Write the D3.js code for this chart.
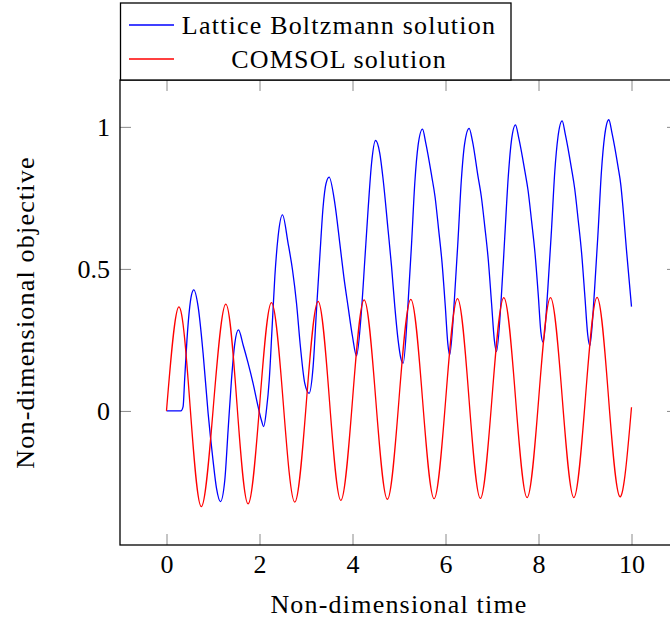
<!DOCTYPE html>
<html>
<head>
<meta charset="utf-8">
<script src="https://cdn.jsdelivr.net/npm/d3@7"></script>
<style>
  html, body { margin: 0; padding: 0; background: #fff; }
  svg { display: block; }
  text { font-family: "Liberation Serif", "Times New Roman", serif; fill: #000; }
</style>
</head>
<body>
<div id="chart"></div>
<script>
// ---------- data ----------
const seriesNames = ["Lattice Boltzmann solution", "COMSOL solution"];
const seriesColors = ["#0000ff", "#ff0000"];

// Lattice Boltzmann solution (time, value)
const lbmTime = [
  0, 0.31, 0.357, 0.39, 0.44, 0.50, 0.537, 0.587, 0.68, 0.787, 0.895, 1.0, 1.075, 1.16,
  1.254, 1.325, 1.397, 1.469, 1.548, 1.648, 1.755, 1.862, 1.97, 2.04, 2.09,
  2.15, 2.21, 2.27, 2.33, 2.40, 2.494, 2.615, 2.71, 2.796, 2.88, 2.974, 3.067,
  3.153, 3.226, 3.297, 3.368, 3.43, 3.497, 3.62, 3.727, 3.813, 3.905, 4.0, 4.086,
  4.194, 4.265, 4.335, 4.41, 4.495, 4.587, 4.66, 4.765, 4.84, 4.91, 4.98, 5.04, 5.09,
  5.19, 5.27, 5.34, 5.41, 5.505, 5.575, 5.705, 5.775, 5.85, 5.925, 5.995, 6.05, 6.09,
  6.19, 6.27, 6.34, 6.41, 6.508, 6.58, 6.70, 6.77, 6.845, 6.92, 6.99, 7.05, 7.097,
  7.2, 7.275, 7.35, 7.42, 7.505, 7.575, 7.705, 7.775, 7.85, 7.925, 7.995, 8.05, 8.1,
  8.2, 8.28, 8.35, 8.42, 8.508, 8.578, 8.708, 8.778, 8.853, 8.928, 8.998, 9.058, 9.103,
  9.203, 9.283, 9.353, 9.423, 9.512, 9.582, 9.712, 9.77, 9.82, 9.89, 10.0
];
const lbmValue = [
  0, 0, 0.015, 0.11, 0.25, 0.367, 0.408, 0.426, 0.367, 0.203, -0.008, -0.173, -0.272, -0.319,
  -0.243, -0.067, 0.109, 0.238, 0.285, 0.232, 0.168, 0.097, 0.015, -0.032, -0.055,
  0.004, 0.11, 0.29, 0.473, 0.614, 0.690, 0.590, 0.496, 0.379, 0.226, 0.097, 0.062,
  0.156, 0.356, 0.543, 0.719, 0.80, 0.823, 0.731, 0.590, 0.473, 0.367, 0.262, 0.194,
  0.356, 0.532, 0.708, 0.872, 0.952, 0.907, 0.813, 0.637, 0.508, 0.367, 0.25, 0.185, 0.168,
  0.366, 0.588, 0.803, 0.934, 0.992, 0.944, 0.825, 0.754, 0.642, 0.523, 0.37, 0.237, 0.197,
  0.389, 0.604, 0.811, 0.939, 0.995, 0.95, 0.825, 0.755, 0.649, 0.532, 0.38, 0.25, 0.209,
  0.40, 0.614, 0.825, 0.954, 1.007, 0.961, 0.846, 0.777, 0.670, 0.555, 0.408, 0.279, 0.241,
  0.428, 0.639, 0.842, 0.966, 1.021, 0.973, 0.855, 0.783, 0.673, 0.554, 0.402, 0.269, 0.229,
  0.42, 0.635, 0.842, 0.969, 1.025, 0.977, 0.858, 0.796, 0.71, 0.57, 0.367
];

// COMSOL solution (time, value): peaks, troughs and mid crossings
const comsolTime = [
  0, 0.265, 0.508, 0.75, 1.01, 1.275, 1.515, 1.755, 2.006, 2.257, 2.51, 2.76,
  3.01, 3.26, 3.505, 3.75, 4.0, 4.25, 4.5, 4.75, 5.0, 5.254, 5.505, 5.755,
  6.006, 6.258, 6.504, 6.75, 7.0, 7.254, 7.505, 7.755, 8.006, 8.258, 8.51, 8.76,
  9.01, 9.26, 9.505, 9.75, 10.0
];
const comsolValue = [
  0, 0.366, 0.015, -0.337, 0.02, 0.376, 0.025, -0.327, 0.027, 0.381, 0.03, -0.321,
  0.035, 0.386, 0.036, -0.315, 0.038, 0.391, 0.04, -0.311, 0.041, 0.393, 0.042, -0.309,
  0.044, 0.395, 0.045, -0.308, 0.046, 0.399, 0.047, -0.305, 0.047, 0.399, 0.047, -0.305,
  0.048, 0.40, 0.049, -0.302, 0.013
];

const xTicks = [0, 2, 4, 6, 8, 10];
const xTickLabels = ["0", "2", "4", "6", "8", "10"];
const yTicks = [0, 0.5, 1];
const yTickLabels = ["0", "0.5", "1"];
const xTitle = "Non-dimensional time";
const yTitle = "Non-dimensional objective";

// ---------- layout ----------
const W = 670, H = 621;
const plot = { left: 120, right: 678, top: 80, bottom: 545 };
const FS = 26;
const LS = "1.2px";

const svg = d3.select("#chart").append("svg")
  .attr("width", W).attr("height", H)
  .attr("viewBox", `0 0 ${W} ${H}`);

const x = d3.scaleLinear().domain([-1, 11]).range([plot.left, plot.right]);
const y = d3.scaleLinear().domain([-0.472, 1.165]).range([plot.bottom, plot.top]);

const TICK = 11;
const tickColor = "#8a8a8a";

// bottom axis (ticks inward + labels)
const gx = svg.append("g").attr("transform", `translate(0,${plot.bottom})`)
  .call(d3.axisBottom(x).tickValues(xTicks)
    .tickFormat((d, i) => xTickLabels[i])
    .tickSizeInner(-TICK).tickSizeOuter(0).tickPadding(9.5));
// top ticks
const gxt = svg.append("g").attr("transform", `translate(0,${plot.top})`)
  .call(d3.axisTop(x).tickValues(xTicks).tickFormat(() => "")
    .tickSizeInner(-TICK).tickSizeOuter(0));
// left axis
const gy = svg.append("g").attr("transform", `translate(${plot.left},0)`)
  .call(d3.axisLeft(y).tickValues(yTicks)
    .tickFormat((d, i) => yTickLabels[i])
    .tickSizeInner(-TICK).tickSizeOuter(0).tickPadding(10));
// right ticks
const gyr = svg.append("g").attr("transform", `translate(${plot.right},0)`)
  .call(d3.axisRight(y).tickValues(yTicks).tickFormat(() => "")
    .tickSizeInner(-TICK).tickSizeOuter(0));

[gx, gxt, gy, gyr].forEach(g => {
  g.select(".domain").remove();
  g.selectAll(".tick line").attr("stroke", tickColor).attr("stroke-width", 1);
  g.selectAll(".tick text")
    .attr("font-family", '"Liberation Serif", serif')
    .attr("font-size", FS).attr("fill", "#000");
});

// curves
const lbmData = lbmTime.map((t, i) => [t, lbmValue[i]]);
const comsolData = comsolTime.map((t, i) => [t, comsolValue[i]]);

const lineMono = d3.line().x(d => x(d[0])).y(d => y(d[1])).curve(d3.curveMonotoneX);
const lineNat = d3.line().x(d => x(d[0])).y(d => y(d[1])).curve(d3.curveNatural);

svg.append("path").datum(lbmData)
  .attr("d", lineMono).attr("fill", "none")
  .attr("stroke", seriesColors[0]).attr("stroke-width", 1.3);
svg.append("path").datum(comsolData)
  .attr("d", lineNat).attr("fill", "none")
  .attr("stroke", seriesColors[1]).attr("stroke-width", 1.3);

// frame
svg.append("rect")
  .attr("x", plot.left).attr("y", plot.top)
  .attr("width", plot.right - plot.left).attr("height", plot.bottom - plot.top)
  .attr("fill", "none").attr("stroke", "#000").attr("stroke-width", 1.3);

// axis titles
svg.append("text")
  .attr("x", (plot.left + plot.right) / 2).attr("y", 613)
  .attr("text-anchor", "middle").attr("font-size", FS)
  .attr("letter-spacing", LS)
  .text(xTitle);
svg.append("text")
  .attr("transform", `translate(34,${(plot.top + plot.bottom) / 2}) rotate(-90)`)
  .attr("text-anchor", "middle").attr("font-size", FS)
  .attr("letter-spacing", LS)
  .text(yTitle);

// legend
const lg = svg.append("g");
lg.append("rect")
  .attr("x", 120.5).attr("y", 3).attr("width", 390.5).attr("height", 77)
  .attr("fill", "#fff").attr("stroke", "#000").attr("stroke-width", 1.3);
const legendRows = [25, 59];
seriesNames.forEach((name, i) => {
  lg.append("line")
    .attr("x1", 129).attr("x2", 174)
    .attr("y1", legendRows[i]).attr("y2", legendRows[i])
    .attr("stroke", seriesColors[i]).attr("stroke-width", 1.3);
  lg.append("text")
    .attr("x", 339).attr("y", legendRows[i] + 8.5)
    .attr("text-anchor", "middle").attr("font-size", FS)
    .attr("letter-spacing", LS)
    .text(name);
});
</script>
</body>
</html>
